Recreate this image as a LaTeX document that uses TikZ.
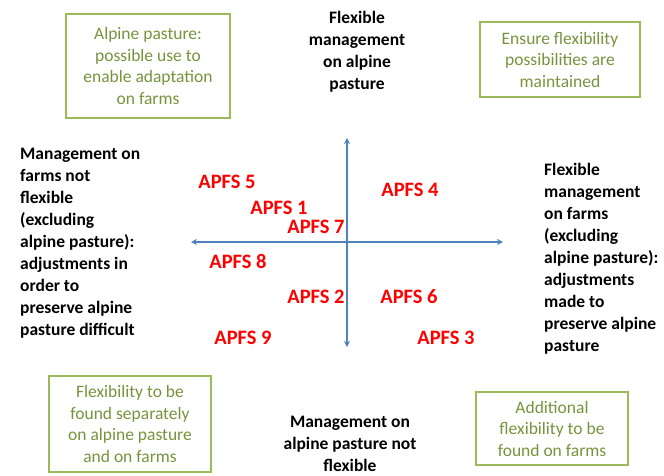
\documentclass[tikz,border=0pt]{standalone}
\usepackage{fontspec}
\setmainfont{Carlito}
\usetikzlibrary{arrows.meta}
\definecolor{boxline}{HTML}{9BBB59}
\definecolor{boxtext}{HTML}{77933C}
\definecolor{axisblue}{HTML}{4F81BD}
\definecolor{apfsred}{HTML}{FF0000}

\tikzset{
    greenbox/.style={rectangle, draw=boxline, line width=2pt, text=boxtext, align=center,
        font=\fontsize{17.5}{21.5}\selectfont, inner sep=0pt},
    mgmt/.style={font=\fontsize{17.5}{22}\selectfont\bfseries, inner sep=0pt},
    apfs/.style={font=\fontsize{20.5}{22}\selectfont\bfseries, text=apfsred, inner sep=0pt},
    axis/.style={draw=axisblue, line width=1.3pt, {Stealth[length=6pt,width=6pt,inset=2pt]}-{Stealth[length=6pt,width=6pt,inset=2pt]}}
}

\begin{document}
\begin{tikzpicture}[x=1pt, y=-1pt]
                        \useasboundingbox (0,0) rectangle (664,475);
                        % axes
                        \coordinate (west) at (191,242);
                        \coordinate (east) at (503,242);
                        \coordinate (north) at (347,138);
                        \coordinate (south) at (347,347);
                        \draw[axis] (west) -- (east);
                        \draw[axis] (north) -- (south);
                        % green boxes
                        \node[greenbox, minimum width=164pt, minimum height=104pt]
                            (boxTL) at (148,66) {Alpine pasture:\\possible use to\\enable adaptation\\on farms};
                        \node[greenbox, minimum width=160pt, minimum height=75pt]
                            (boxTR) at (560,59.5) {Ensure flexibility\\possibilities are\\maintained};
                        \node[greenbox, minimum width=162pt, minimum height=96pt]
                            (boxBL) at (130,424) {Flexibility to be\\found separately\\on alpine pasture\\and on farms};
                        \node[greenbox, minimum width=152pt, minimum height=73pt]
                            (boxBR) at (552,428.5) {Additional\\flexibility to be\\found on farms};
                        % axis labels
                        \node[mgmt, align=center] (top) at (357,52)
                            {Flexible\\management\\on alpine\\pasture};
                        \node[mgmt, align=center] (bottom) at (350,443.5)
                            {Management on\\alpine pasture not\\flexible};
                        \node[mgmt, align=left, anchor=west] (left) at (20,243)
                            {Management on\\farms not\\flexible\\(excluding\\alpine pasture):\\adjustments in\\order to\\preserve alpine\\pasture difficult};
                        \node[mgmt, align=left, anchor=west] (right) at (544,259)
                            {Flexible\\management\\on farms\\(excluding\\alpine pasture):\\adjustments\\made to\\preserve alpine\\pasture};
                        % APFS
                        \node[apfs] (a5) at (227,182) {APFS 5};
                        \node[apfs] (a4) at (410,190) {APFS 4};
                        \node[apfs] (a1) at (279,208) {APFS 1};
                        \node[apfs] (a7) at (316,227) {APFS 7};
                        \node[apfs] (a8) at (238,261) {APFS 8};
                        \node[apfs] (a2) at (316,297) {APFS 2};
                        \node[apfs] (a6) at (409,297) {APFS 6};
                        \node[apfs] (a9) at (243,338) {APFS 9};
                        \node[apfs] (a3) at (446,338) {APFS 3};
                    \end{tikzpicture}
\end{document}
